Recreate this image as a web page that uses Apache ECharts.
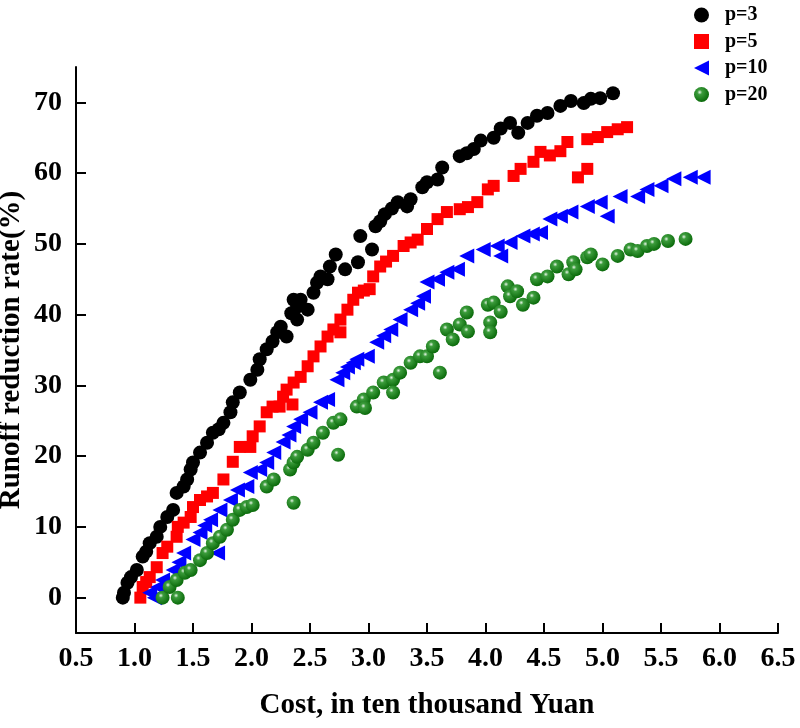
<!DOCTYPE html>
<html>
<head>
<meta charset="utf-8">
<script src="https://cdn.jsdelivr.net/npm/echarts@6/dist/echarts.min.js"></script>
<style>
  html, body { margin: 0; padding: 0; background: #fff; }
  #chart { width: 800px; height: 728px; }
</style>
</head>
<body>
<div id="chart"></div>
<script>
// 数据：[成本, 径流削减率]
var p3Data = [[0.9,0],[0.91,0.7],[0.94,2.1],[0.97,2.9],[1.02,3.9],[1.07,5.8],[1.1,6.5],[1.13,7.7],[1.19,8.6],[1.22,10],[1.28,11.4],[1.33,12.4],[1.36,14.8],[1.42,15.7],[1.45,16.7],[1.48,18.1],[1.5,19.1],[1.56,20.5],[1.62,21.9],[1.67,23.3],[1.72,23.8],[1.76,24.7],[1.82,26.2],[1.84,27.6],[1.9,29],[1.99,30.8],[2.05,32.2],[2.07,33.7],[2.13,35.1],[2.18,36.2],[2.22,37.5],[2.25,38.3],[2.3,36.9],[2.34,40.2],[2.36,42.1],[2.39,39.3],[2.39,41.1],[2.42,42.1],[2.48,40.7],[2.53,43.1],[2.56,44.5],[2.59,45.4],[2.65,45],[2.67,46.8],[2.72,48.5],[2.8,46.4],[2.91,47.4],[2.93,51.1],[3.03,49.2],[3.06,52.5],[3.1,53.2],[3.14,54.2],[3.2,55],[3.25,55.9],[3.33,55.3],[3.36,56.3],[3.46,58],[3.5,58.7],[3.59,59.1],[3.63,60.8],[3.78,62.4],[3.84,62.8],[3.9,63.4],[3.96,64.6],[4.07,65],[4.13,66.3],[4.21,67.1],[4.28,65.7],[4.36,67.1],[4.44,68.1],[4.53,68.5],[4.64,69.5],[4.73,70.2],[4.84,69.9],[4.9,70.5],[4.98,70.6],[5.09,71.3]];
var p5Data = [[1.05,0],[1.07,1.5],[1.1,2.2],[1.13,2.9],[1.19,4.3],[1.24,6.3],[1.28,7.2],[1.36,8.6],[1.37,10],[1.42,10.6],[1.48,11.4],[1.5,12.8],[1.56,13.8],[1.62,14.3],[1.67,14.8],[1.76,16.7],[1.84,19.2],[1.9,21.3],[1.99,21.3],[2.01,22.8],[2.07,24.2],[2.13,26.2],[2.18,27],[2.24,27],[2.27,28.4],[2.3,29.4],[2.35,27.3],[2.36,30.4],[2.42,31.2],[2.48,32.7],[2.53,34.1],[2.59,35.5],[2.65,36.9],[2.7,37.9],[2.76,37.5],[2.76,39.3],[2.82,40.7],[2.87,42.1],[2.91,43.1],[2.96,43.4],[3.01,43.6],[3.04,45.4],[3.1,46.8],[3.15,47.5],[3.21,48.3],[3.3,49.7],[3.36,50.2],[3.42,50.6],[3.5,52.1],[3.59,53.5],[3.67,54.5],[3.78,54.9],[3.85,55.2],[3.93,55.9],[4.02,57.7],[4.07,58.2],[4.24,59.6],[4.3,60.6],[4.41,61.6],[4.47,63],[4.55,62.5],[4.64,63.1],[4.7,64.4],[4.79,59.4],[4.87,60.6],[4.87,64.8],[4.96,65.1],[5.04,65.8],[5.13,66.2],[5.21,66.5]];
var p10Data = [[1.13,0.7],[1.17,0],[1.2,1.5],[1.24,2.5],[1.33,3.9],[1.38,5],[1.42,6.3],[1.5,8.2],[1.56,9.2],[1.6,10.2],[1.65,11],[1.71,6.3],[1.73,12.4],[1.82,13.8],[1.88,15.2],[1.96,15.7],[1.99,17.7],[2.07,18.1],[2.13,19.1],[2.19,20.5],[2.27,22],[2.32,23],[2.36,24.2],[2.42,25.2],[2.5,26.2],[2.59,27.6],[2.65,28],[2.73,30.8],[2.78,31.8],[2.82,32.6],[2.87,33.2],[2.9,33.7],[2.99,34.1],[3.07,36.1],[3.13,37],[3.19,37.9],[3.27,39.3],[3.36,40.7],[3.42,41.6],[3.47,42.6],[3.5,44.6],[3.59,45],[3.67,46],[3.76,46.4],[3.84,48.3],[3.98,49.2],[4.1,49.7],[4.13,48.3],[4.21,50.2],[4.32,51.1],[4.4,51.4],[4.47,51.6],[4.55,53.5],[4.64,53.9],[4.73,54.5],[4.87,55.3],[4.98,55.9],[5.04,53.9],[5.15,56.7],[5.3,56.7],[5.38,57.7],[5.5,58.2],[5.61,59.2],[5.75,59.4],[5.86,59.4]];
var p20Data = [[1.24,0],[1.3,1.5],[1.36,2.5],[1.37,0],[1.43,3.5],[1.48,3.9],[1.56,5.3],[1.62,6.3],[1.67,7.7],[1.73,8.6],[1.79,9.6],[1.84,11],[1.9,12.4],[1.96,12.8],[2.01,13.1],[2.13,15.7],[2.19,16.7],[2.33,18.1],[2.36,13.4],[2.36,19.1],[2.39,19.9],[2.48,20.9],[2.53,21.9],[2.61,23.3],[2.7,24.7],[2.74,20.2],[2.76,25.2],[2.9,27],[2.96,28],[2.97,26.8],[3.04,29],[3.13,30.4],[3.21,30.8],[3.21,29],[3.27,31.8],[3.36,33.2],[3.44,34.1],[3.5,34.1],[3.55,35.5],[3.61,31.8],[3.67,37.9],[3.72,36.5],[3.78,38.6],[3.84,40.3],[3.85,37.6],[4.02,41.4],[4.04,38.9],[4.04,37.5],[4.07,41.7],[4.13,40.4],[4.19,44],[4.21,42.6],[4.27,43.3],[4.32,41.4],[4.41,42.4],[4.44,45],[4.53,45.4],[4.61,46.8],[4.71,45.7],[4.75,47.4],[4.77,46.4],[4.87,48.1],[4.9,48.5],[5.0,47.1],[5.13,48.3],[5.24,49.2],[5.3,49],[5.38,49.7],[5.44,50],[5.56,50.4],[5.71,50.7]];
var seriesNames = ['p=3', 'p=5', 'p=10', 'p=20'];
var yTicks = [0, 10, 20, 30, 40, 50, 60, 70];

var font = 'Liberation Serif';
var myChart = echarts.init(document.getElementById('chart'));

// 绿色球体的径向渐变
var ballColor = {
  type: 'radial', x: 0.38, y: 0.35, r: 0.65,
  colorStops: [
    { offset: 0, color: '#e8f5e8' },
    { offset: 0.25, color: '#3c9c3c' },
    { offset: 1, color: '#0b6b0b' }
  ]
};

var option = {
  animation: false,
  backgroundColor: '#fff',
  grid: { left: 76, right: 22, top: 67, bottom: 95, outerBoundsMode: 'none' },
  legend: {
    orient: 'vertical',
    left: 689,
    top: 0,
    itemWidth: 15,
    itemHeight: 15,
    itemGap: 6.5,
    textStyle: {
      fontFamily: font, fontWeight: 'bold', fontSize: 20, color: '#000',
      padding: [0, 0, 0, 11]
    },
    data: seriesNames
  },
  xAxis: {
    type: 'value',
    min: 0.5,
    max: 6.5,
    interval: 0.5,
    name: 'Cost, in ten thousand Yuan',
    nameLocation: 'middle',
    nameGap: 58,
    nameTextStyle: { fontFamily: font, fontWeight: 'bold', fontSize: 29, color: '#000' },
    axisLine: { onZero: false, lineStyle: { color: '#000', width: 2 } },
    axisTick: { inside: true, length: 10, lineStyle: { color: '#000', width: 2 } },
    axisLabel: {
      margin: 12,
      fontFamily: font, fontWeight: 'bold', fontSize: 28, color: '#000',
      formatter: function (v) { return v.toFixed(1); }
    },
    splitLine: { show: false }
  },
  yAxis: {
    type: 'value',
    min: -5,
    max: 75,
    name: 'Runoff reduction rate(%)',
    nameLocation: 'middle',
    nameMoveOverlap: false,
    nameGap: 50,
    nameTextStyle: { fontFamily: font, fontWeight: 'bold', fontSize: 29, color: '#000' },
    axisLine: { onZero: false, lineStyle: { color: '#000', width: 2 } },
    axisTick: { inside: true, length: 10, customValues: yTicks, lineStyle: { color: '#000', width: 2 } },
    axisLabel: {
      margin: 14, customValues: yTicks,
      fontFamily: font, fontWeight: 'bold', fontSize: 28, color: '#000'
    },
    splitLine: { show: false }
  },
  series: [
    {
      name: seriesNames[0], type: 'scatter', data: p3Data,
      symbol: 'circle', symbolSize: 14,
      itemStyle: { color: '#000', opacity: 1 }
    },
    {
      name: seriesNames[1], type: 'scatter', data: p5Data,
      symbol: 'rect', symbolSize: 12,
      itemStyle: { color: '#ff0000', opacity: 1 }
    },
    {
      name: seriesNames[2], type: 'scatter', data: p10Data,
      symbol: 'path://M0,5 L10,0 L10,10 Z', symbolSize: [15, 15],
      itemStyle: { color: '#0000ff', opacity: 1 }
    },
    {
      name: seriesNames[3], type: 'scatter', data: p20Data,
      symbol: 'circle', symbolSize: 14,
      itemStyle: { color: ballColor, opacity: 1 }
    }
  ]
};

myChart.setOption(option);
window.addEventListener('resize', function () {
  myChart.resize();
});
</script>
</body>
</html>
